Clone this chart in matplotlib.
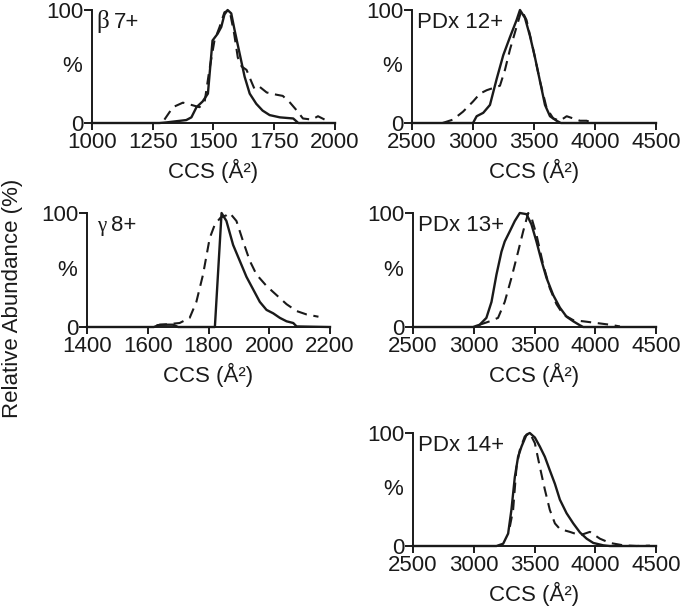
import matplotlib
matplotlib.use("Agg")
import matplotlib.pyplot as plt

plt.rcParams['font.family'] = ['Liberation Sans', 'DejaVu Sans']

# ---------------- data (CCS in Å^2, relative abundance %) ----------------
b7_solid_x = [1000, 1277, 1305, 1388, 1409, 1430, 1455, 1477, 1496, 1517, 1532, 1545, 1558, 1573, 1587, 1607, 1628, 1649, 1676, 1702, 1731, 1773, 1828, 1849, 2000]
b7_solid_y = [0, 0, 0.5, 2.6, 5, 14, 19, 26, 73, 79, 85, 96, 100, 97, 82, 62, 41, 26, 17, 11, 7, 5, 4, 0, 0]
b7_dash_x = [1298, 1333, 1374, 1409, 1442, 1463, 1483, 1504, 1525, 1545, 1566, 1585, 1600, 1616, 1636, 1657, 1669, 1690, 1719, 1760, 1785, 1815, 1843, 1868, 1905, 1930, 1967]
b7_dash_y = [3, 14, 18, 16, 14, 18, 47, 73, 85, 98, 100, 79, 58, 50, 47, 36, 30, 32, 27, 25, 24, 18, 11, 4, 3, 6, 2]

p12_solid_x = [2500, 3000, 3030, 3084, 3139, 3194, 3248, 3303, 3357, 3385, 3426, 3467, 3508, 3549, 3590, 3631, 3685, 3720, 4500]
p12_solid_y = [0, 0, 6, 9, 16, 39, 60, 76, 91, 100, 93, 77, 58, 37, 16, 6, 2, 0, 0]
p12_dash_x = [2750, 2836, 2918, 3000, 3057, 3112, 3166, 3221, 3262, 3303, 3357, 3398, 3439, 3494, 3549, 3604, 3658, 3713, 3768, 3822, 3877, 3931, 3986]
p12_dash_y = [0, 3, 10, 19, 26, 29, 31, 33, 47, 65, 85, 100, 91, 65, 37, 13, 4, 2, 6, 4, 2, 2, 0]

g8_solid_x = [1400, 1620, 1640, 1683, 1700, 1821, 1843, 1859, 1881, 1903, 1925, 1947, 1969, 1991, 2013, 2035, 2057, 2079, 2090, 2200]
g8_solid_y = [0, 0, 2, 2, 0, 0, 100, 93, 72, 58, 44, 33, 22, 15, 12, 8, 5, 3.5, 0.5, 0]
g8_dash_x = [1629, 1705, 1738, 1760, 1782, 1804, 1821, 1840, 1859, 1870, 1892, 1914, 1936, 1958, 1991, 2024, 2057, 2090, 2123, 2162]
g8_dash_y = [1.5, 3.5, 8, 22, 46, 78, 90, 96, 98, 100, 93, 75, 58, 46, 36, 28, 20, 14, 11, 9]

p13_solid_x = [2500, 2994, 3049, 3104, 3146, 3187, 3228, 3255, 3297, 3338, 3379, 3434, 3475, 3516, 3558, 3599, 3654, 3709, 3764, 3819, 3874, 3900, 4500]
p13_solid_y = [0, 0, 2, 8, 22, 46, 66, 75, 84, 93, 100, 99, 90, 75, 58, 43, 28, 17, 9, 5, 1.5, 0, 0]
p13_dash_x = [3049, 3132, 3200, 3255, 3310, 3365, 3407, 3448, 3475, 3516, 3571, 3626, 3681, 3736, 3819, 3901, 4011, 4121, 4203]
p13_dash_y = [2, 5, 8, 22, 43, 66, 84, 100, 96, 81, 55, 34, 20, 11, 6, 5, 3.5, 2, 0.5]

p14_solid_x = [2500, 3187, 3242, 3283, 3310, 3338, 3365, 3393, 3434, 3461, 3503, 3544, 3585, 3626, 3668, 3709, 3764, 3819, 3874, 3929, 3984, 4066, 4120, 4500]
p14_solid_y = [0, 0, 2, 11, 32, 61, 79, 88, 98.5, 100, 96, 88, 79, 67, 55, 41, 29, 20, 12, 6.5, 2.7, 0.6, 0, 0]
p14_dash_x = [3297, 3324, 3352, 3379, 3420, 3461, 3503, 3544, 3585, 3626, 3668, 3709, 3791, 3874, 3956, 4038, 4121, 4231, 4340, 4450]
p14_dash_y = [17, 32, 70, 85, 97, 100, 91, 70, 50, 32, 20, 15, 12.5, 9.5, 12.5, 6.5, 2.7, 0.6, 0, 0.3]

b7_ticks = [1000, 1250, 1500, 1750, 2000]
g8_ticks = [1400, 1600, 1800, 2000, 2200]
pdx_ticks = [2500, 3000, 3500, 4000, 4500]

panels = [
    # (rect, solid, dashed, ticks, greek, label)
    ((92, 10, 335, 123), (b7_solid_x, b7_solid_y), (b7_dash_x, b7_dash_y), b7_ticks, 'β', '7+'),
    ((412, 10, 656, 123), (p12_solid_x, p12_solid_y), (p12_dash_x, p12_dash_y), pdx_ticks, None, 'PDx 12+'),
    ((87, 213, 330, 327), (g8_solid_x, g8_solid_y), (g8_dash_x, g8_dash_y), g8_ticks, 'γ', '8+'),
    ((413, 213, 656, 327), (p13_solid_x, p13_solid_y), (p13_dash_x, p13_dash_y), pdx_ticks, None, 'PDx 13+'),
    ((413, 433, 656, 546), (p14_solid_x, p14_solid_y), (p14_dash_x, p14_dash_y), pdx_ticks, None, 'PDx 14+'),
]

W, H = 685, 610
fig = plt.figure(figsize=(W / 100, H / 100), dpi=100)

FS = 16
INK = '#1a1a1a'
for (x0, y0, x1, y1), (sx, sy), (dx, dy), ticks, greek, lab in panels:
    ax = fig.add_axes([x0 / W, 1 - y1 / H, (x1 - x0) / W, (y1 - y0) / H])
    ax.plot(sx, sy, color=INK, lw=1.7, clip_on=False, zorder=3)
    ax.plot(dx, dy, color=INK, lw=1.5, ls=(0, (5, 3.2)), clip_on=False, zorder=3)
    ax.set_xlim(ticks[0], ticks[-1])
    ax.set_ylim(0, 100)
    ax.set_xticks(ticks)
    ax.set_yticks([0, 100])
    for s in ['top', 'right']:
        ax.spines[s].set_visible(False)
    for s in ['left', 'bottom']:
        ax.spines[s].set_linewidth(1.4)
        ax.spines[s].set_color(INK)
    ax.tick_params(axis='x', direction='out', length=5, width=1.4, pad=1.5,
                   labelsize=FS, color=INK, labelcolor=INK)
    ax.tick_params(axis='y', direction='out', length=6, width=1.4, pad=0,
                   labelsize=FS, color=INK, labelcolor=INK)
    ax.set_xlabel('CCS (Å²)', fontsize=FS, labelpad=4, color=INK)
    ax.text(-0.082, 0.5, '%', transform=ax.transAxes, ha='center', va='center',
            fontsize=FS, color=INK)
    if greek is None:
        ax.text(0.02, 0.84, lab, transform=ax.transAxes, ha='left', va='baseline',
                fontsize=FS, color=INK)
    else:
        gsize = 18 if greek == 'β' else 15
        gx, lx = (0.02, 0.088) if greek == 'β' else (0.041, 0.098)
        ax.text(gx, 0.84, greek, transform=ax.transAxes, ha='left', va='baseline',
                fontsize=gsize, family=['Liberation Serif', 'DejaVu Serif'], color=INK)
        ax.text(lx, 0.84, lab, transform=ax.transAxes, ha='left', va='baseline',
                fontsize=FS, color=INK)

fig.text(13 / W, 1 - 298 / H, 'Relative Abundance (%)', rotation=90,
         ha='center', va='center', fontsize=FS, color=INK)

fig.savefig('out.png', dpi=100)
